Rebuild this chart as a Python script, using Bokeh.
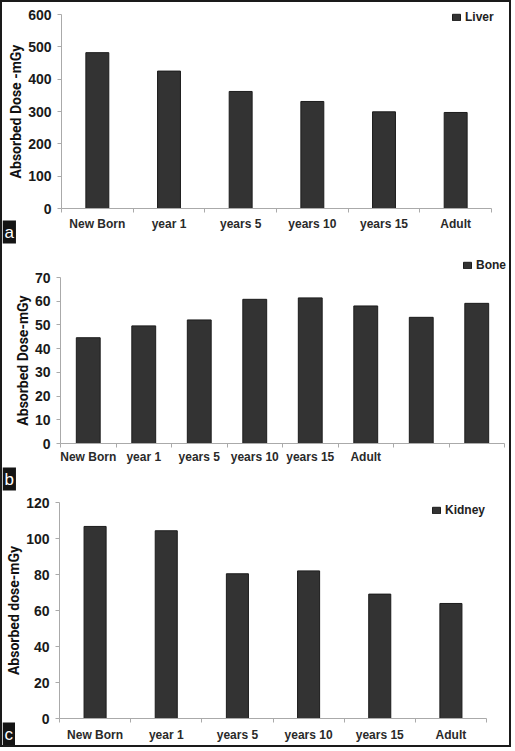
from bokeh.plotting import figure
from bokeh.layouts import column
from bokeh.models import Range1d, FixedTicker, Label, Legend, LegendItem, ColumnDataSource
from bokeh.embed import file_html
from bokeh.resources import INLINE

# ---- data ----
liver_categories = ["New Born", "year 1", "years 5", "years 10", "years 15", "Adult"]
liver_values = [482, 425, 362, 331, 299, 297]

bone_categories = ["New Born", "year 1", "years 5", "years 10", "years 15", "Adult", "", ""]
bone_values = [44.6, 49.6, 52.1, 60.8, 61.4, 58.0, 53.2, 59.1]

kidney_categories = ["New Born", "year 1", "years 5", "years 10", "years 15", "Adult"]
kidney_values = [106.7, 104.3, 80.4, 82.0, 69.1, 63.9]

liver_yticks = [0, 100, 200, 300, 400, 500, 600]
bone_yticks = [0, 10, 20, 30, 40, 50, 60, 70]
kidney_yticks = [0, 20, 40, 60, 80, 100, 120]

W = 507
AXIS_FONT = "Liberation Sans"
TITLE_FONT = "Roboto"


def panel(cats, vals, yticks, series, letter, H, axis_box, bar_width,
          ytitle, legend_loc, xlabel_standoff, letter_y):
    # axis_box: canvas pixel positions of the axes (left, right, top, bottom)
    ax_l, ax_r, ax_t, ax_b = axis_box
    n = len(cats)
    ymax = yticks[-1]
    sx = n / (ax_r - ax_l)
    sy = ymax / (ax_b - ax_t)
    x_range = Range1d(-ax_l * sx, n + (W - ax_r) * sx)
    y_range = Range1d(-(H - ax_b) * sy, ymax + ax_t * sy)
    p = figure(width=W, height=H, output_backend="svg", toolbar_location=None,
               x_range=x_range, y_range=y_range,
               min_border=0, min_border_left=0, min_border_right=0,
               min_border_top=0, min_border_bottom=0)
    p.outline_line_color = None
    p.xgrid.grid_line_color = None
    p.ygrid.grid_line_color = None
    p.background_fill_color = "white"
    p.border_fill_color = "white"

    src = ColumnDataSource(dict(x=[i + 0.5 for i in range(n)], top=vals))
    r = p.vbar(x="x", top="top", width=bar_width, bottom=0, source=src,
               fill_color="#333333", line_color="#1c1c1c", line_width=1)

    centers = [i + 0.5 for i in range(n)]
    xa = p.xaxis[0]
    xa.fixed_location = 0
    xa.bounds = (0, n)
    xa.ticker = FixedTicker(ticks=centers, minor_ticks=list(range(n + 1)))
    xa.major_label_overrides = {c: cats[i] for i, c in enumerate(centers)}
    xa.major_tick_line_color = None
    xa.major_tick_out = 0
    xa.major_tick_in = 0
    xa.minor_tick_line_color = "#aaaaaa"
    xa.minor_tick_out = 4
    xa.minor_tick_in = 0
    xa.axis_line_color = "#aaaaaa"
    xa.major_label_text_font = AXIS_FONT
    xa.major_label_text_font_size = "12px"
    xa.major_label_text_font_style = "bold"
    xa.major_label_text_color = "#2a2a2a"
    xa.major_label_standoff = xlabel_standoff

    ya = p.yaxis[0]
    ya.fixed_location = 0
    ya.bounds = (0, ymax)
    ya.ticker = FixedTicker(ticks=yticks)
    ya.minor_tick_line_color = None
    ya.major_tick_line_color = "#aaaaaa"
    ya.major_tick_out = 4
    ya.major_tick_in = 0
    ya.axis_line_color = "#aaaaaa"
    ya.major_label_text_font = AXIS_FONT
    ya.major_label_text_font_size = "14px"
    ya.major_label_text_font_style = "bold"
    ya.major_label_text_color = "#1a1a1a"
    ya.major_label_standoff = 6
    ya.axis_label = ytitle
    ya.axis_label_text_font = TITLE_FONT
    ya.axis_label_text_font_size = "14px"
    ya.axis_label_text_font_style = "bold"
    ya.axis_label_text_color = "#111111"
    ya.axis_label_standoff = 1

    leg = Legend(items=[LegendItem(label=series, renderers=[r])],
                 location=legend_loc, border_line_color=None,
                 background_fill_alpha=0, label_text_font=AXIS_FONT,
                 label_text_font_size="12px", label_text_font_style="bold",
                 label_text_color="#222222", glyph_width=10, glyph_height=8,
                 label_standoff=4, padding=0, margin=0, label_height=12)
    p.add_layout(leg, "center")

    lab = Label(x=0, y=letter_y, x_units="screen", y_units="screen", text=letter,
                text_color="white", text_font=AXIS_FONT, text_font_size="17px",
                background_fill_color="#141414", padding=2,
                text_baseline="bottom", text_align="left")
    p.add_layout(lab)
    return p


pa = panel(liver_categories, liver_values, liver_yticks, "Liver", "a", 243,
           (59, 489, 12, 206), 0.32, "Absorbed Dose -mGy", (449, 221), 4, 2)
pb = panel(bone_categories, bone_values, bone_yticks, "Bone", "b", 248,
           (58, 502, 32, 198), 0.43, "Absorbed Dose-mGy", (460, 221), 2, 3)
pc = panel(kidney_categories, kidney_values, kidney_yticks, "Kidney", "c", 252,
           (57, 484, 9, 225), 0.31, "Absorbed dose-mGy", (429, 228), 5, 0)

layout = column(pa, pb, pc, spacing=0,
                styles={"border": "2px solid #1a1a1a", "background-color": "white"})

open("out.html", "w").write(file_html(layout, INLINE))
